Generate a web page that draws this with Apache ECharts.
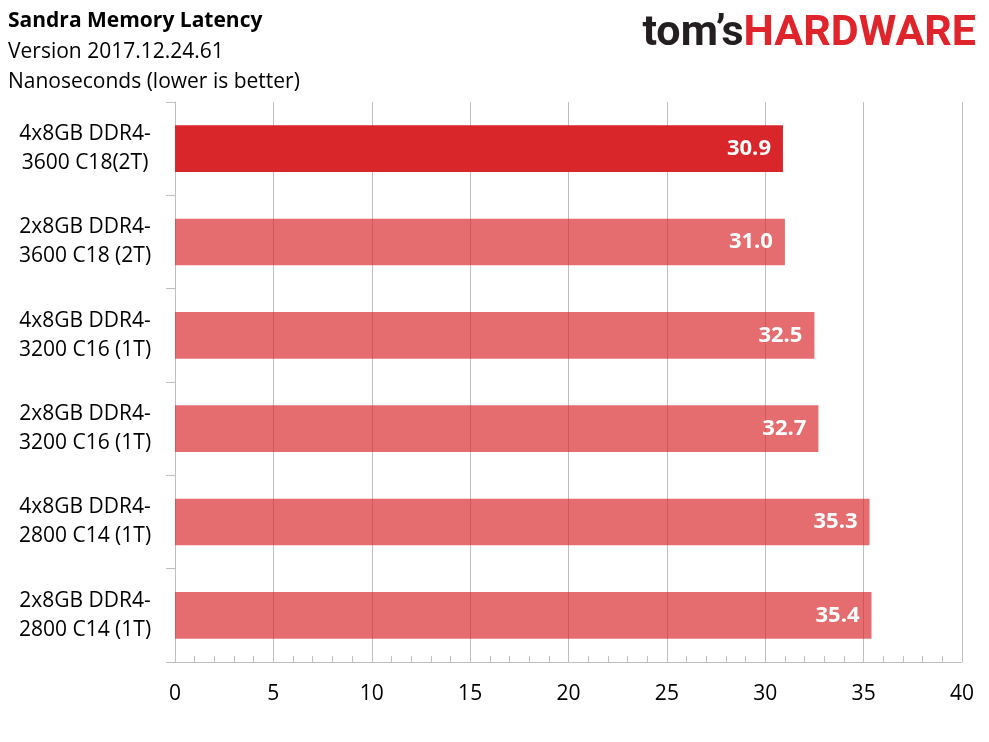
<!DOCTYPE html>
<html>
<head>
<meta charset="utf-8">
<script src="https://cdn.jsdelivr.net/npm/echarts@6/dist/echarts.min.js"></script>
<style>
  html, body { margin: 0; padding: 0; background: #fff; }
  #chart { width: 989px; height: 742px; }
</style>
</head>
<body>
<div id="chart"></div>
<script>
// 数据
var categories = [
    '4x8GB DDR4-\n3600 C18(2T)',
    '2x8GB DDR4-\n3600 C18 (2T)',
    '4x8GB DDR4-\n3200 C16 (1T)',
    '2x8GB DDR4-\n3200 C16 (1T)',
    '4x8GB DDR4-\n2800 C14 (1T)',
    '2x8GB DDR4-\n2800 C14 (1T)'
];
var latency = [30.9, 31.0, 32.5, 32.7, 35.3, 35.4];
var highlight = [true, false, false, false, false, false];
var titleLines = ['Sandra Memory Latency', 'Version 2017.12.24.61', 'Nanoseconds (lower is better)'];

var font = '"Open Sans", sans-serif';
var gray = '#BFBFBF';

var barData = [];
for (var i = 0; i < latency.length; i++) {
    barData.push({
        value: latency[i],
        itemStyle: { color: highlight[i] ? '#D9262B' : 'rgba(217,38,43,0.68)' }
    });
}

var chart = echarts.init(document.getElementById('chart'));
var option = {
    animation: false,
    backgroundColor: '#fff',
    grid: { left: 175, right: 27, top: 102, bottom: 80, containLabel: false },
    graphic: [
        { type: 'text', left: 8, top: 11, style: { text: titleLines[0], font: 'bold 21px ' + font, fill: '#000' } },
        { type: 'text', left: 8, top: 42, style: { text: titleLines[1], font: '21px ' + font, fill: '#000' } },
        { type: 'text', left: 8, top: 72, style: { text: titleLines[2], font: '21px ' + font, fill: '#000' } },
        {
            type: 'text', right: 13, top: 13,
            style: {
                text: '{a|tom’s}{b|HARDWARE}',
                rich: {
                    a: { font: 'bold 43px Roboto, sans-serif', fill: '#231F20' },
                    b: { font: 'bold 43px Roboto, sans-serif', fill: '#E0242B' }
                }
            }
        }
    ],
    xAxis: {
        type: 'value',
        min: 0,
        max: 40,
        interval: 5,
        axisLine: { show: true, lineStyle: { color: gray, width: 1 } },
        axisTick: { show: true, inside: true, length: 6, lineStyle: { color: gray } },
        minorTick: { show: true, splitNumber: 5, length: 6, lineStyle: { color: gray } },
        splitLine: { show: true, lineStyle: { color: gray, width: 1 } },
        axisLabel: { color: '#000', fontSize: 21, fontFamily: font, margin: 22 }
    },
    yAxis: {
        type: 'category',
        data: categories,
        inverse: true,
        axisLine: { show: true, lineStyle: { color: gray, width: 1 } },
        axisTick: { show: true, length: 9, lineStyle: { color: gray } },
        axisLabel: { color: '#000', fontSize: 21, fontFamily: font, margin: 90, lineHeight: 29, align: 'center' }
    },
    series: [{
        type: 'bar',
        data: barData,
        barCategoryGap: '50%',
        label: {
            show: true,
            position: 'insideRight',
            distance: 12,
            color: '#fff',
            fontSize: 22,
            fontWeight: 'bold',
            fontFamily: font,
            formatter: function (p) { return p.value.toFixed(1); }
        }
    }]
};
chart.setOption(option);
</script>
</body>
</html>
